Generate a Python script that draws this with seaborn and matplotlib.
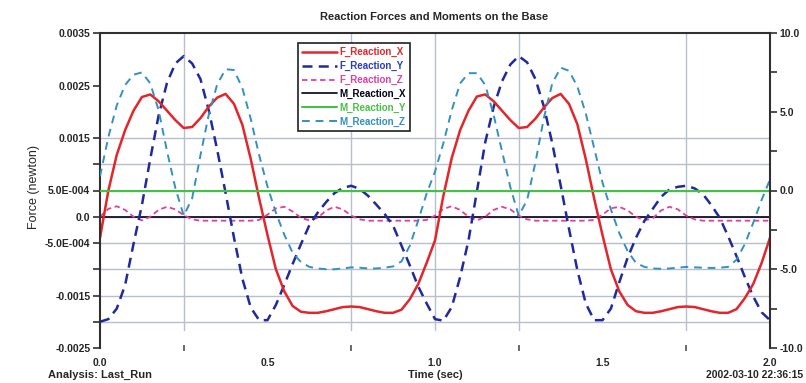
import numpy as np
import pandas as pd
import matplotlib
matplotlib.use("Agg")
import matplotlib.pyplot as plt
import seaborn as sns

# ---------------- data ----------------
time_s = np.linspace(0.0, 2.0, 81)

# forces in units of 1e-3 newton
f_reaction_x = [
    -0.40, 0.50, 1.18, 1.65, 2.02, 2.28, 2.33, 2.20, 2.02, 1.84,
    1.69, 1.71, 1.88, 2.10, 2.27, 2.34, 2.15, 1.75, 1.10, 0.35,
    -0.35, -1.00, -1.42, -1.70, -1.81, -1.83, -1.83, -1.80, -1.76, -1.72,
    -1.71, -1.72, -1.76, -1.80, -1.83, -1.83, -1.77, -1.57, -1.28, -0.88,
    -0.45, 0.40, 1.12, 1.65, 2.02, 2.29, 2.33, 2.20, 2.02, 1.84,
    1.69, 1.71, 1.87, 2.08, 2.26, 2.34, 2.15, 1.76, 1.10, 0.35,
    -0.35, -1.00, -1.42, -1.68, -1.80, -1.83, -1.83, -1.80, -1.76, -1.72,
    -1.71, -1.72, -1.76, -1.80, -1.83, -1.83, -1.76, -1.55, -1.28, -0.88,
    -0.40,
]
f_reaction_y = [
    -2.00, -1.95, -1.75, -1.30, -0.52, 0.22, 1.10, 1.93, 2.55, 2.92,
    3.06, 2.92, 2.62, 2.02, 1.27, 0.45, -0.40, -1.18, -1.73, -1.97,
    -1.97, -1.68, -1.30, -0.90, -0.52, -0.16, 0.08, 0.28, 0.45, 0.55,
    0.59, 0.53, 0.40, 0.23, 0.05, -0.17, -0.55, -0.93, -1.33, -1.65,
    -1.95, -1.98, -1.72, -1.15, -0.45, 0.48, 1.42, 2.09, 2.58, 2.90,
    3.06, 2.94, 2.62, 2.10, 1.40, 0.60, -0.23, -1.02, -1.65, -1.97,
    -1.97, -1.75, -1.25, -0.78, -0.40, -0.08, 0.15, 0.38, 0.52, 0.57,
    0.59, 0.54, 0.43, 0.22, -0.02, -0.37, -0.75, -1.15, -1.52, -1.82,
    -1.97,
]
f_reaction_z = [
    0.00, 0.15, 0.20, 0.13, 0.00, -0.07, 0.00, 0.13, 0.19, 0.14,
    0.03, -0.05, -0.075, -0.075, -0.075, -0.075, -0.075, -0.075, -0.075, -0.06,
    0.04, 0.16, 0.19, 0.10, -0.02, -0.07, -0.02, 0.12, 0.19, 0.14,
    0.02, -0.05, -0.075, -0.075, -0.075, -0.075, -0.075, -0.075, -0.075, -0.06,
    0.02, 0.15, 0.20, 0.13, 0.00, -0.07, 0.00, 0.13, 0.19, 0.14,
    0.02, -0.05, -0.075, -0.075, -0.075, -0.075, -0.075, -0.075, -0.075, -0.06,
    0.04, 0.16, 0.19, 0.12, 0.00, -0.07, -0.03, 0.12, 0.19, 0.14,
    0.02, -0.05, -0.075, -0.075, -0.075, -0.075, -0.075, -0.075, -0.075, -0.075,
    -0.075,
]
m_reaction_x = [0.0] * 81
m_reaction_y = [0.0] * 81
m_reaction_z = [
    0.9, 3.4, 5.4, 6.7, 7.35, 7.5, 6.8, 5.1, 2.5, 0.15,
    -1.6, -0.5, 2.25, 4.85, 6.75, 7.7, 7.65, 6.5, 4.55, 2.25,
    0.25, -1.4, -2.8, -3.95, -4.55, -4.85, -4.95, -5.0, -5.0, -4.95,
    -4.88, -4.9, -4.95, -4.95, -4.9, -4.82, -4.5, -3.5, -1.9, -0.2,
    1.2, 3.0, 5.1, 6.8, 7.45, 7.45, 6.7, 4.8, 2.5, 0.2,
    -1.6, -0.6, 1.8, 4.6, 6.8, 7.8, 7.6, 6.6, 4.9, 2.7,
    0.5, -1.2, -2.7, -3.85, -4.6, -4.85, -4.95, -4.97, -4.95, -4.9,
    -4.85, -4.88, -4.9, -4.92, -4.9, -4.85, -4.4, -3.4, -2.05, -0.6,
    0.7,
]

left_ticks = [0.0035, 0.0025, 0.0015, 0.0005, 0.0, -0.0005, -0.0015, -0.0025]
left_labels = ["0.0035", "0.0025", "0.0015", "5.0E-004", "0.0", "-5.0E-004", "-0.0015", "-0.0025"]
right_ticks = [10, 5, 0, -5, -10]
right_labels = ["10.0", "5.0", "0.0", "-5.0", "-10.0"]
x_ticks = [0.0, 0.5, 1.0, 1.5, 2.0]
x_labels = ["0.0", "0.5", "1.0", "1.5", "2.0"]

df = pd.DataFrame({
    "t": time_s,
    "F_Reaction_X": np.array(f_reaction_x) * 1e-3,
    "F_Reaction_Y": np.array(f_reaction_y) * 1e-3,
    "F_Reaction_Z": np.array(f_reaction_z) * 1e-3,
    "M_Reaction_X": np.array(m_reaction_x) * 1e-3,
    "M_Reaction_Y": m_reaction_y,
    "M_Reaction_Z": m_reaction_z,
})

# ---------------- style ----------------
sns.set_theme(style="white")
plt.rcParams["font.family"] = ["Liberation Sans", "DejaVu Sans"]

fig = plt.figure(figsize=(8.06, 3.83), dpi=100)
ax = fig.add_axes([100 / 806, 35 / 383, 670 / 806, 315 / 383])
ax2 = ax.twinx()

c_fx = "#e2262b"
c_fy = "#1f2a9c"
c_fz = "#e0409c"
c_mx = "#000018"
c_my = "#45c245"
c_mz = "#3390c2"
grid_c = "#b7bfcd"

# gridlines
for gy in [0.0015, 0.001, 0.0005, 0.0, -0.0005, -0.001, -0.0015, -0.002]:
    ax.axhline(gy, color=grid_c, lw=1.0, zorder=0)
for gx in [0.25, 0.75, 1.0, 1.25, 1.75]:
    ax.axvline(gx, ymin=0.057, ymax=1.0, color=grid_c, lw=1.0, zorder=0)

sns.lineplot(data=df, x="t", y="M_Reaction_X", ax=ax, color=c_mx, lw=1.2, label="M_Reaction_X")
sns.lineplot(data=df, x="t", y="F_Reaction_Z", ax=ax, color=c_fz, lw=1.3,
             linestyle=(0, (3, 2)), label="F_Reaction_Z")
sns.lineplot(data=df, x="t", y="F_Reaction_Y", ax=ax, color=c_fy, lw=1.8,
             linestyle=(0, (4, 2.5)), label="F_Reaction_Y")
sns.lineplot(data=df, x="t", y="F_Reaction_X", ax=ax, color=c_fx, lw=1.8, label="F_Reaction_X")
sns.lineplot(data=df, x="t", y="M_Reaction_Y", ax=ax2, color=c_my, lw=1.5, label="M_Reaction_Y")
sns.lineplot(data=df, x="t", y="M_Reaction_Z", ax=ax2, color=c_mz, lw=1.4,
             linestyle=(0, (4, 3)), label="M_Reaction_Z")

for a in (ax, ax2):
    lg = a.get_legend()
    if lg is not None:
        lg.remove()

ax.set_xlim(0, 2)
ax.set_ylim(-0.0025, 0.0035)
ax2.set_ylim(-10, 10)
ax.set_xlabel("")
ax.set_ylabel("")
ax2.set_ylabel("")

# left axis ticks
ax.set_yticks(left_ticks)
ax.set_yticklabels(left_labels)
ax.set_yticks([0.001, -0.001, -0.002], minor=True)
ax.tick_params(axis="y", which="both", direction="out", length=5, width=1.2,
               color="#303030", pad=2, labelsize=7.5, left=True, right=False)
# x ticks
ax.set_xticks(x_ticks)
ax.set_xticklabels(x_labels)
ax.set_xticks([0.25, 0.75, 1.0, 1.25, 1.75], minor=True)
ax.tick_params(axis="x", which="major", length=0, pad=7, labelsize=7.5)
ax.tick_params(axis="x", which="minor", direction="inout", length=5, width=1.2,
               color="#505050", bottom=True)
# right axis ticks
ax2.set_yticks(right_ticks)
ax2.set_yticklabels(right_labels)
ax2.set_yticks([7.5, 2.5, -2.5, -7.5], minor=True)
ax2.tick_params(axis="y", which="both", direction="out", length=5, width=1.2,
                color="#303030", pad=2, labelsize=7.5, right=True, left=False)

for lbl in ax.get_yticklabels() + ax.get_xticklabels() + ax2.get_yticklabels():
    lbl.set_fontweight("bold")

for a in (ax, ax2):
    for s in a.spines.values():
        s.set_visible(False)
ax.spines["left"].set_visible(True)
ax.spines["top"].set_visible(True)
ax2.spines["right"].set_visible(True)
for s in (ax.spines["left"], ax.spines["top"], ax2.spines["right"]):
    s.set_color("#303030")
    s.set_linewidth(1.5)
ax.set_facecolor("white")

# texts
fig.text(434 / 806, 1 - 17 / 383, "Reaction Forces and Moments on the Base",
         ha="center", va="center", fontsize=8, fontweight="bold")
fig.text(34 / 806, 1 - 187 / 383, "Force (newton)", rotation=90,
         ha="center", va="center", fontsize=9)
fig.text(435 / 806, 1 - 375 / 383, "Time (sec)", ha="center", va="center",
         fontsize=8, fontweight="bold")
fig.text(100 / 806, 1 - 375 / 383, "Analysis: Last_Run", ha="center", va="center",
         fontsize=8, fontweight="bold")
fig.text(803 / 806, 1 - 375 / 383, "2002-03-10 22:36:15", ha="right", va="center",
         fontsize=7.5, fontweight="bold")

# legend
h1, l1 = ax.get_legend_handles_labels()
h2, l2 = ax2.get_legend_handles_labels()
hmap = dict(zip(l1 + l2, h1 + h2))
order = ["F_Reaction_X", "F_Reaction_Y", "F_Reaction_Z",
         "M_Reaction_X", "M_Reaction_Y", "M_Reaction_Z"]
colors = [c_fx, "#2a3cc4", c_fz, c_mx, c_my, c_mz]
leg = ax2.legend([hmap[k] for k in order], order, loc="upper left",
                 bbox_to_anchor=(298 / 806, 1 - 43 / 383),
                 bbox_transform=fig.transFigure, borderaxespad=0,
                 frameon=True, fancybox=False, fontsize=7,
                 handlelength=3.6, handletextpad=0.2, labelspacing=0.38,
                 borderpad=0.45)
leg.get_frame().set_edgecolor("#202020")
leg.get_frame().set_linewidth(1.2)
leg.get_frame().set_alpha(1)
for txt, col in zip(leg.get_texts(), colors):
    txt.set_color(col)
    txt.set_fontweight("bold")

fig.savefig("out.png", dpi=100)
